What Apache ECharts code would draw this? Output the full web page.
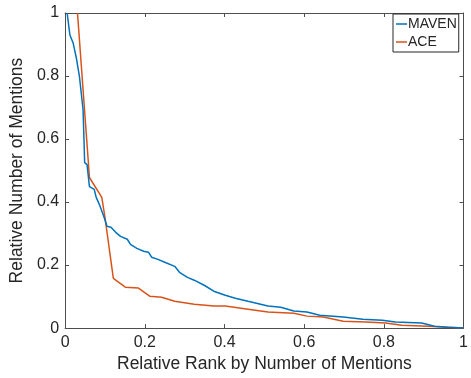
<!DOCTYPE html>
<html>
<head>
<meta charset="utf-8">
<script src="https://cdn.jsdelivr.net/npm/echarts@6/dist/echarts.min.js"></script>
<style>
  html, body { margin: 0; padding: 0; background: #fff; }
  #chart { width: 471px; height: 378px; }
</style>
</head>
<body>
<div id="chart"></div>
<script>
// relative rank (x) and relative number of mentions (y)
const mavenX = [0.005, 0.012, 0.020, 0.028, 0.036, 0.045, 0.049, 0.055, 0.061, 0.065, 0.073, 0.078, 0.086, 0.098, 0.105, 0.115, 0.127, 0.139, 0.156, 0.164, 0.180, 0.197, 0.209, 0.217, 0.233, 0.250, 0.275, 0.287, 0.307, 0.324, 0.349, 0.373, 0.377, 0.402, 0.427, 0.459, 0.509, 0.541, 0.574, 0.607, 0.639, 0.698, 0.747, 0.796, 0.829, 0.895, 0.927, 0.959, 1.0]
const mavenY = [1.0, 0.930, 0.905, 0.858, 0.797, 0.693, 0.525, 0.519, 0.449, 0.446, 0.440, 0.415, 0.392, 0.351, 0.323, 0.320, 0.304, 0.291, 0.282, 0.266, 0.253, 0.244, 0.241, 0.225, 0.218, 0.209, 0.196, 0.177, 0.161, 0.152, 0.136, 0.117, 0.111, 0.104, 0.095, 0.085, 0.070, 0.066, 0.054, 0.051, 0.041, 0.035, 0.028, 0.025, 0.019, 0.016, 0.006, 0.003, 0.0]
const aceX = [0.031, 0.061, 0.065, 0.092, 0.100, 0.121, 0.151, 0.184, 0.213, 0.242, 0.275, 0.324, 0.373, 0.402, 0.459, 0.509, 0.574, 0.607, 0.648, 0.698, 0.755, 0.804, 0.845, 0.910, 1.0]
const aceY = [1.0, 0.478, 0.472, 0.415, 0.351, 0.158, 0.130, 0.127, 0.101, 0.098, 0.085, 0.076, 0.070, 0.070, 0.060, 0.051, 0.047, 0.038, 0.035, 0.022, 0.019, 0.016, 0.009, 0.006, 0.0]
const seriesNames = ['MAVEN', 'ACE']

const pairs = (xs, ys) => xs.map((x, i) => [x, ys[i]])

const axisColor = '#4d4d4d'
const textColor = '#262626'
const font = 'Liberation Sans, Helvetica, Arial, sans-serif'

const chart = echarts.init(document.getElementById('chart'))
const baseAxis = {
    type: 'value',
    min: 0,
    max: 1,
    interval: 0.2,
    axisLine: {show: true, onZero: false, lineStyle: {color: axisColor, width: 1}},
    axisTick: {show: true, inside: true, length: 4, lineStyle: {color: axisColor}},
    splitLine: {show: false},
}
chart.setOption({
    animation: false,
    textStyle: {fontFamily: font},
    grid: {left: 64, right: 2, top: 13, bottom: 49},
    legend: {
        data: seriesNames,
        orient: 'vertical',
        left: 393,
        top: 14,
        width: 68,
        icon: 'rect',
        itemWidth: 11,
        itemHeight: 1.5,
        itemGap: 4,
        padding: [3, 2, 3, 3],
        borderColor: textColor,
        borderWidth: 1,
        borderRadius: 0,
        backgroundColor: '#fff',
        textStyle: {color: textColor, fontSize: 14, fontFamily: font, padding: [0, 0, 0, -4]},
    },
    xAxis: [
        Object.assign({}, baseAxis, {
            position: 'bottom',
            name: 'Relative Rank by Number of Mentions',
            nameLocation: 'middle',
            nameGap: 25,
            nameTextStyle: {color: textColor, fontSize: 17.5, fontFamily: font},
            axisLabel: {color: textColor, fontSize: 16, margin: 6, fontFamily: font},
        }),
        Object.assign({}, baseAxis, {position: 'top', axisLabel: {show: false}}),
    ],
    yAxis: [
        Object.assign({}, baseAxis, {
            position: 'left',
            name: 'Relative Number of Mentions',
            nameLocation: 'middle',
            nameGap: 31,
            nameTextStyle: {color: textColor, fontSize: 17.5, fontFamily: font},
            axisLabel: {color: textColor, fontSize: 16, margin: 6, fontFamily: font},
        }),
        Object.assign({}, baseAxis, {position: 'right', axisLabel: {show: false}}),
    ],
    series: [
        {
            name: seriesNames[0],
            type: 'line',
            data: pairs(mavenX, mavenY),
            showSymbol: false,
            color: '#0072BD',
            lineStyle: {width: 1.5, color: '#0072BD'},
            z: 3,
        },
        {
            name: seriesNames[1],
            type: 'line',
            data: pairs(aceX, aceY),
            showSymbol: false,
            color: '#D95319',
            lineStyle: {width: 1.5, color: '#D95319'},
            z: 2,
        },
    ],
})
</script>
</body>
</html>
